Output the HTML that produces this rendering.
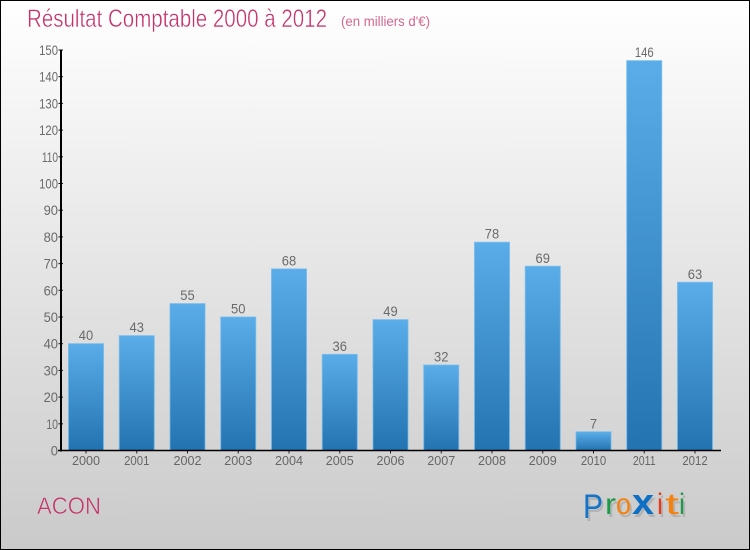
<!DOCTYPE html>
<html lang="fr">
<head>
<meta charset="utf-8">
<title>Résultat Comptable 2000 à 2012</title>
<style>
html,body{margin:0;padding:0;background:#fff}
svg{display:block}
text{font-family:"Liberation Sans",sans-serif}
</style>
</head>
<body>
<svg id="chart" xmlns="http://www.w3.org/2000/svg" width="750" height="550" viewBox="0 0 750 550">
  <defs>
    <linearGradient id="bg" x1="0" y1="0" x2="0" y2="1">
      <stop offset="0" stop-color="#ffffff"/>
      <stop offset="1" stop-color="#cacaca"/>
    </linearGradient>
    <linearGradient id="barFill" x1="0" y1="0" x2="0" y2="1" gradientUnits="objectBoundingBox">
      <stop offset="0" stop-color="#5aade8"/>
      <stop offset="1" stop-color="#2373b0"/>
    </linearGradient>
  </defs>
  <rect x="0.5" y="0.5" width="749" height="549" fill="url(#bg)" stroke="#000" stroke-width="1"/>
  <text x="27" y="27" font-size="25" fill="#c4336a" stroke="#fbfbfb" stroke-width="0.45" textLength="300" lengthAdjust="spacingAndGlyphs">Résultat Comptable 2000 à 2012</text>
  <text x="341" y="26" font-size="14" fill="#d4688f" textLength="89" lengthAdjust="spacingAndGlyphs">(en milliers d'€)</text>
  <g id="bars"></g>
  <g id="yaxis"></g>
  <g id="xaxis"></g>
  <text x="37" y="514" font-size="24" fill="#c4336a" stroke="#d3d3d3" stroke-width="0.5" textLength="64" lengthAdjust="spacingAndGlyphs">ACON</text>
  <g font-size="30" font-family="Liberation Sans, sans-serif">
    <g opacity="0.16" fill="#333" transform="translate(2,3)">
      <text x="583" y="518" font-size="34" textLength="20" lengthAdjust="spacingAndGlyphs">P</text>
      <text x="605" y="514" textLength="11" lengthAdjust="spacingAndGlyphs">r</text>
      <text x="616" y="514" textLength="15" lengthAdjust="spacingAndGlyphs">o</text>
      <text x="632" y="514" font-weight="bold" font-size="36" textLength="22" lengthAdjust="spacingAndGlyphs">x</text>
      <text x="657" y="514" textLength="6" lengthAdjust="spacingAndGlyphs">i</text>
      <text x="665" y="514" textLength="14" lengthAdjust="spacingAndGlyphs">t</text>
      <text x="679" y="514" textLength="6" lengthAdjust="spacingAndGlyphs">i</text>
    </g>
    <text x="583" y="518" font-size="34" fill="#1474c8" textLength="20" lengthAdjust="spacingAndGlyphs">P</text>
    <text x="605" y="514" fill="#1f9a4a" textLength="11" lengthAdjust="spacingAndGlyphs">r</text>
    <text x="616" y="514" fill="#f5820f" textLength="15" lengthAdjust="spacingAndGlyphs">o</text>
    <text x="632" y="514" font-weight="bold" font-size="36" fill="#0d70c4" textLength="22" lengthAdjust="spacingAndGlyphs">x</text>
    <text x="657" y="514" fill="#e8391c" textLength="6" lengthAdjust="spacingAndGlyphs">i</text>
    <text x="665" y="514" fill="#f5820f" textLength="14" lengthAdjust="spacingAndGlyphs">t</text>
    <text x="679" y="514" fill="#1f9a4a" textLength="6" lengthAdjust="spacingAndGlyphs">i</text>
  </g>
</svg>
<script>
const years = ["2000","2001","2002","2003","2004","2005","2006","2007","2008","2009","2010","2011","2012"];
const results = [40,43,55,50,68,36,49,32,78,69,7,146,63];
const yTicks = [0,10,20,30,40,50,60,70,80,90,100,110,120,130,140,150];

const NS = "http://www.w3.org/2000/svg";
const y = v => 450.5 - v * (400.5 / 150);
const xCenter = i => 86 + i * (609 / 12);
const BAR_W = 35;

function make(tag, parent, attrs, txt) {
  const el = document.createElementNS(NS, tag);
  for (const k in attrs) el.setAttribute(k, attrs[k]);
  if (txt !== undefined) el.textContent = txt;
  parent.appendChild(el);
  return el;
}
function digitWidth(s, per) {
  let w = 0;
  for (const c of s) w += c === "1" ? per * 0.62 : per;
  return w;
}

const barsG = document.getElementById("bars");
const yG = document.getElementById("yaxis");
const xG = document.getElementById("xaxis");

results.forEach((v, i) => {
  const cx = xCenter(i);
  const top = y(v);
  const bar = make("rect", barsG, {x: cx - BAR_W / 2, y: top, width: BAR_W, height: y(0) - top, fill: "url(#barFill)", stroke: "#6db8ee", "stroke-opacity": "0.75", "stroke-width": 1});
  
  
  const label = String(v);
  const lbl = make("text", barsG, {x: cx, y: top - 3.5, "font-size": 14, fill: "#6a6a6a", "text-anchor": "middle", textLength: digitWidth(label, 7.2), lengthAdjust: "spacingAndGlyphs"}, label);
  
  

  const tick = make("line", xG, {x1: cx, x2: cx, y1: 450, y2: 453.5, stroke: "#222", "stroke-width": 1});
  
  
  const yl = make("text", xG, {x: cx, y: 465, "font-size": 13, fill: "#666", "text-anchor": "middle", textLength: digitWidth(years[i], 7), lengthAdjust: "spacingAndGlyphs"}, years[i]);
  
  
});

yTicks.forEach(t => {
  const py = y(t);
  const tick = make("line", yG, {x1: 58.5, x2: 63, y1: py, y2: py, stroke: "#111", "stroke-width": 1});
  
  
  const label = String(t);
  const lbl = make("text", yG, {x: 58, y: py + 5, "font-size": 14, fill: "#6a6a6a", "text-anchor": "end", textLength: digitWidth(label, 7.2), lengthAdjust: "spacingAndGlyphs"}, label);
  
  
});

const yLine = make("line", yG, {x1: 61, x2: 61, y1: y(150), y2: 451.5, stroke: "#000", "stroke-width": 2});


const xLine = make("line", xG, {x1: 58, x2: 721, y1: 450.5, y2: 450.5, stroke: "#000", "stroke-width": 1.5});


</script>
</body>
</html>
